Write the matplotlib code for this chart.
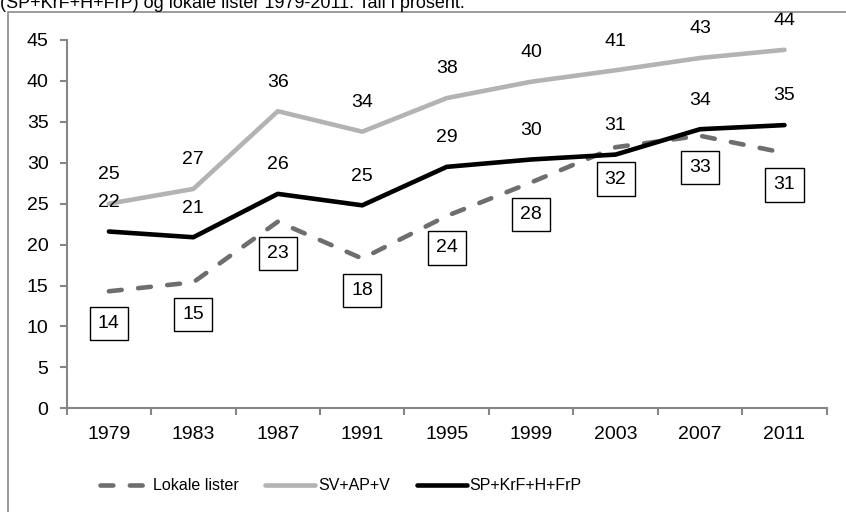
import matplotlib
matplotlib.use("Agg")
from matplotlib import pyplot as plt
from matplotlib.patches import Rectangle

plt.rcParams["font.family"] = ["Liberation Sans", "DejaVu Sans"]
plt.rcParams["font.size"] = 14

years = ["1979", "1983", "1987", "1991", "1995", "1999", "2003", "2007", "2011"]
lokale = [14.3, 15.4, 22.8, 18.3, 23.5, 27.6, 31.9, 33.3, 31.2]
lokale_lbl = [14, 15, 23, 18, 24, 28, 32, 33, 31]
sv_ap_v = [25.0, 26.8, 36.3, 33.8, 37.9, 39.9, 41.3, 42.8, 43.8]
sv_lbl = [25, 27, 36, 34, 38, 40, 41, 43, 44]
borg = [21.6, 20.9, 26.2, 24.8, 29.5, 30.4, 31.0, 34.1, 34.6]
borg_lbl = [22, 21, 26, 25, 29, 30, 31, 34, 35]

spine_col = "#868686"

fig = plt.figure(figsize=(8.46, 5.12), dpi=100)
ax = fig.add_axes([0.0788, 0.2025, 0.8984, 0.7194])

x = list(range(len(years)))
ax.plot(x, lokale, color="#6e6e6e", lw=3.3, dashes=(2.8, 3.6),
        dash_capstyle="round", solid_capstyle="round", label="Lokale lister")
ax.plot(x, sv_ap_v, color="#b3b3b3", lw=3.3, solid_capstyle="round", label="SV+AP+V")
ax.plot(x, borg, color="black", lw=3.3, solid_capstyle="round", label="SP+KrF+H+FrP")

for i in x:
    ax.annotate(str(sv_lbl[i]), (i, sv_ap_v[i]), xytext=(0, 21), textcoords="offset points",
                ha="center", va="center")
    ax.annotate(str(borg_lbl[i]), (i, borg[i]), xytext=(0, 21), textcoords="offset points",
                ha="center", va="center")
    ax.annotate(str(lokale_lbl[i]), (i, lokale[i]), xytext=(0, -23), textcoords="offset points",
                ha="center", va="center",
                bbox=dict(boxstyle="square,pad=0.42", fc="white", ec="black", lw=1))

ax.set_xlim(-0.5, len(years) - 0.5)
ax.set_ylim(0, 45)
ax.set_yticks(range(0, 50, 5))
ax.set_xticks(x)
ax.set_xticklabels(years)
ax.set_xticks([i - 0.5 for i in range(len(years) + 1)], minor=True)
ax.tick_params(axis="x", which="major", length=0, pad=13)
ax.tick_params(axis="x", which="minor", length=5, color=spine_col, width=1.5, direction="out")
ax.tick_params(axis="y", length=5, color=spine_col, width=1.5, direction="out", pad=8)
for s in ["top", "right"]:
    ax.spines[s].set_visible(False)
for s in ["left", "bottom"]:
    ax.spines[s].set_color(spine_col)
    ax.spines[s].set_linewidth(1.5)

# legend text in the original is condensed, so a smaller size keeps the widths
fig.legend(loc="center left", bbox_to_anchor=(0.118, 0.051), ncol=3, frameon=False,
           handlelength=3.1, handletextpad=0.2, columnspacing=1.7,
           borderpad=0, borderaxespad=0, fontsize=11.5)

fig.text(0.0, 0.984, "(SP+KrF+H+FrP) og lokale lister 1979-2011. Tall i prosent.",
         ha="left", va="baseline", fontsize=13)
fig.patches.append(Rectangle((8 / 846, -0.1), 1.0, (512 - 12) / 512 + 0.1,
                             transform=fig.transFigure, fill=False, ec="#8a8a8a", lw=1.2))

fig.savefig("out.png", dpi=100)
